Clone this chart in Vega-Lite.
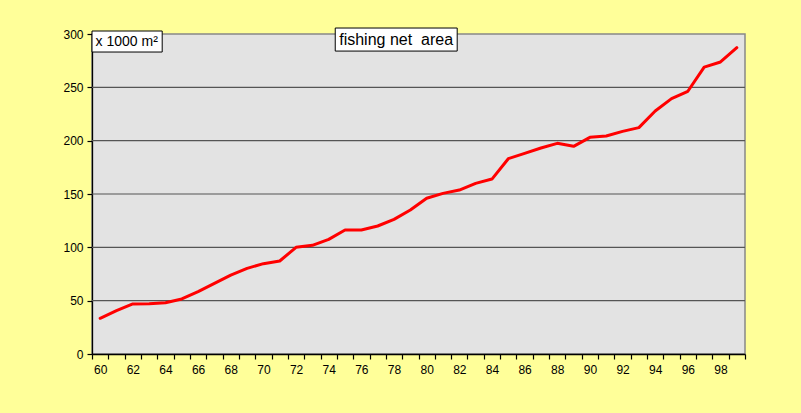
{
  "$schema": "https://vega.github.io/schema/vega-lite/v6.json",
  "width": 653,
  "height": 320,
  "autosize": {"type": "none"},
  "padding": {"left": 92, "top": 34, "right": 56, "bottom": 59},
  "background": "#ffff99",
  "config": {
    "font": "Liberation Sans",
    "view": {"fill": "#e3e3e3", "stroke": "#888888", "strokeWidth": 1.5},
    "axis": {"labelFont": "Liberation Sans", "labelFontSize": 12, "labelColor": "#000000", "domainColor": "#000000", "tickColor": "#000000", "grid": false, "title": null, "domainWidth": 1.3, "tickWidth": 1.2}
  },
  "datasets": {
    "net": [
      {"year": 60, "area": 33.5}, {"year": 61, "area": 40.6}, {"year": 62, "area": 46.9}, {"year": 63, "area": 47.2},
      {"year": 64, "area": 48.1}, {"year": 65, "area": 51.6}, {"year": 66, "area": 58.4}, {"year": 67, "area": 66.2},
      {"year": 68, "area": 74}, {"year": 69, "area": 80.3}, {"year": 70, "area": 84.7}, {"year": 71, "area": 87.2},
      {"year": 72, "area": 100}, {"year": 73, "area": 101.9}, {"year": 74, "area": 107.5}, {"year": 75, "area": 116.2},
      {"year": 76, "area": 116.2}, {"year": 77, "area": 120}, {"year": 78, "area": 126.2}, {"year": 79, "area": 135},
      {"year": 80, "area": 146}, {"year": 81, "area": 150.6}, {"year": 82, "area": 153.7}, {"year": 83, "area": 160},
      {"year": 84, "area": 164}, {"year": 85, "area": 183.1}, {"year": 86, "area": 188.1}, {"year": 87, "area": 193.1},
      {"year": 88, "area": 197.5}, {"year": 89, "area": 194.7}, {"year": 90, "area": 203.1}, {"year": 91, "area": 204.4},
      {"year": 92, "area": 208.7}, {"year": 93, "area": 212.2}, {"year": 94, "area": 227.8}, {"year": 95, "area": 239.4},
      {"year": 96, "area": 246.3}, {"year": 97, "area": 269}, {"year": 98, "area": 273.8}, {"year": 99, "area": 287.2}
    ],
    "grid": [{"v": 50}, {"v": 100}, {"v": 150}, {"v": 200}, {"v": 250}],
    "boxes": [
      {"label": "fishing net\u00a0 area", "x1": 74.4, "x2": 81.87, "y1": 284, "y2": 305.6, "tx": 78.13, "ty": 294.4, "size": 16},
      {"label": "x 1000 m²", "x1": 59.5, "x2": 63.8, "y1": 283.1, "y2": 302.8, "tx": 59.72, "ty": 292.8, "size": 14}
    ]
  },
  "resolve": {"axis": {"x": "independent"}},
  "layer": [
    {
      "data": {"name": "grid"},
      "mark": {"type": "rule", "color": "#555555", "strokeWidth": 1.2},
      "encoding": {
        "y": {"field": "v", "type": "quantitative", "scale": {"domain": [0, 300], "nice": false}, "axis": {"title": null}}
      }
    },
    {
      "data": {"name": "net"},
      "mark": {"type": "line", "color": "#ff0000", "strokeWidth": 3, "strokeJoin": "round", "strokeCap": "round"},
      "encoding": {
        "x": {"field": "year", "type": "quantitative", "scale": {"domain": [59.5, 99.5], "nice": false, "zero": false},
              "axis": {"orient": "bottom", "values": [59.5,60.5,61.5,62.5,63.5,64.5,65.5,66.5,67.5,68.5,69.5,70.5,71.5,72.5,73.5,74.5,75.5,76.5,77.5,78.5,79.5,80.5,81.5,82.5,83.5,84.5,85.5,86.5,87.5,88.5,89.5,90.5,91.5,92.5,93.5,94.5,95.5,96.5,97.5,98.5,99.5], "labels": false, "tickSize": 5, "title": null}},
        "y": {"field": "area", "type": "quantitative", "scale": {"domain": [0, 300], "nice": false},
              "axis": {"values": [0, 50, 100, 150, 200, 250, 300], "tickSize": 5, "labelPadding": 4, "title": null}}
      }
    },
    {
      "data": {"name": "boxes"},
      "mark": {"type": "rect", "fill": "#ffffff", "stroke": "#000000", "strokeWidth": 1},
      "encoding": {
        "x": {"field": "x1", "type": "quantitative",
              "axis": {"orient": "bottom", "values": [60,62,64,66,68,70,72,74,76,78,80,82,84,86,88,90,92,94,96,98], "ticks": false, "domain": false, "labelPadding": 10, "title": null}},
        "x2": {"field": "x2"},
        "y": {"field": "y1", "type": "quantitative", "axis": {"title": null}},
        "y2": {"field": "y2"}
      }
    },
    {
      "data": {"name": "boxes"},
      "transform": [{"filter": "datum.size == 16"}],
      "mark": {"type": "text", "font": "Liberation Sans", "fontSize": 16, "color": "#000000", "align": "center", "baseline": "middle"},
      "encoding": {
        "x": {"field": "tx", "type": "quantitative", "axis": null},
        "y": {"field": "ty", "type": "quantitative", "axis": {"title": null}},
        "text": {"field": "label"}
      }
    },
    {
      "data": {"name": "boxes"},
      "transform": [{"filter": "datum.size == 14"}],
      "mark": {"type": "text", "font": "Liberation Sans", "fontSize": 14, "color": "#000000", "align": "left", "baseline": "middle"},
      "encoding": {
        "x": {"field": "tx", "type": "quantitative", "axis": null},
        "y": {"field": "ty", "type": "quantitative", "axis": {"title": null}},
        "text": {"field": "label"}
      }
    }
  ]
}
